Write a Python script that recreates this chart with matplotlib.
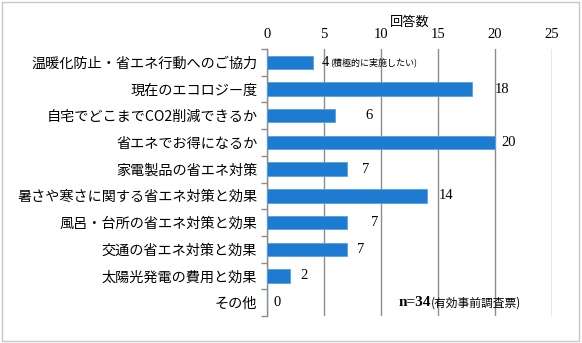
import matplotlib
matplotlib.use("Agg")
import matplotlib.pyplot as plt
from matplotlib.patches import Rectangle

plt.rcParams['font.family'] = ['Noto Sans CJK JP', 'DejaVu Sans']

categories = [
    "温暖化防止・省エネ行動へのご協力",
    "現在のエコロジー度",
    "自宅でどこまでCO2削減できるか",
    "省エネでお得になるか",
    "家電製品の省エネ対策",
    "暑さや寒さに関する省エネ対策と効果",
    "風呂・台所の省エネ対策と効果",
    "交通の省エネ対策と効果",
    "太陽光発電の費用と効果",
    "その他",
]
counts = [4, 18, 6, 20, 7, 14, 7, 7, 2, 0]
x_ticks = [0, 5, 10, 15, 20, 25]
axis_title = "回答数"
note = "n=34"
note_suffix = "(有効事前調査票)"
first_suffix = "(積極的に実施したい)"

# horizontal shift of each value label from its bar end (in data units)
label_shift = [0.8, 2.0, 2.6, 0.6, 1.3, 1.1, 2.1, 0.9, 0.9, 0.6]

fig = plt.figure(figsize=(5.82, 3.43), dpi=100)
fig.patches.append(Rectangle((0.004, 0.006), 0.99, 0.988, transform=fig.transFigure,
                             fill=False, edgecolor='#c8c8c8', linewidth=1.0))

ax = fig.add_axes([267 / 582, 1 - 316 / 343, (552 - 267) / 582, (316 - 49) / 343])
y = list(range(len(categories)))
ax.barh(y, counts, height=0.5, color='#1E7BD2', edgecolor='#5aa0e0', linewidth=0.6, zorder=3)
ax.set_ylim(len(categories) - 0.5, -0.5)
ax.set_xlim(0, 25)

ax.xaxis.tick_top()
ax.xaxis.set_label_position('top')
ax.set_xticks(x_ticks)
ax.set_xticklabels([str(t) for t in x_ticks], family='Liberation Serif', fontsize=10.5)
ax.tick_params(axis='x', length=0, pad=6)
ax.set_xlabel(axis_title, fontsize=9.5, labelpad=1)
ax.xaxis.grid(True, color='#8c8c8c', linewidth=1.0, zorder=0)

ax.set_yticks(y)
ax.set_yticklabels(categories, fontsize=10.2)
ax.tick_params(axis='y', length=0, pad=7)
ax.set_yticks([i + 0.5 for i in range(-1, len(categories))], minor=True)
ax.tick_params(axis='y', which='minor', length=4, color='#8c8c8c', width=1.0, direction='out')

for s in ['top', 'right', 'bottom']:
    ax.spines[s].set_visible(False)
ax.spines['left'].set_color('#8c8c8c')
ax.spines['left'].set_linewidth(1.0)

for i, (v, d) in enumerate(zip(counts, label_shift)):
    ax.text(v + d, i, str(v), va='center', ha='left', family='Liberation Serif',
            fontsize=10.5, zorder=4)

ax.annotate(first_suffix, xy=(counts[0] + label_shift[0], 0), xytext=(6, 0),
            textcoords='offset points', va='center', ha='left', fontsize=6.5)

t = ax.text(11.5, 9, note, va='center', ha='left', family='Liberation Serif',
            fontsize=11, fontweight='bold')
ax.annotate(note_suffix, xy=(1, 0.5), xycoords=t, xytext=(0, 0),
            textcoords='offset points', va='center', ha='left', fontsize=8.5)

fig.savefig("out.png", dpi=100)
